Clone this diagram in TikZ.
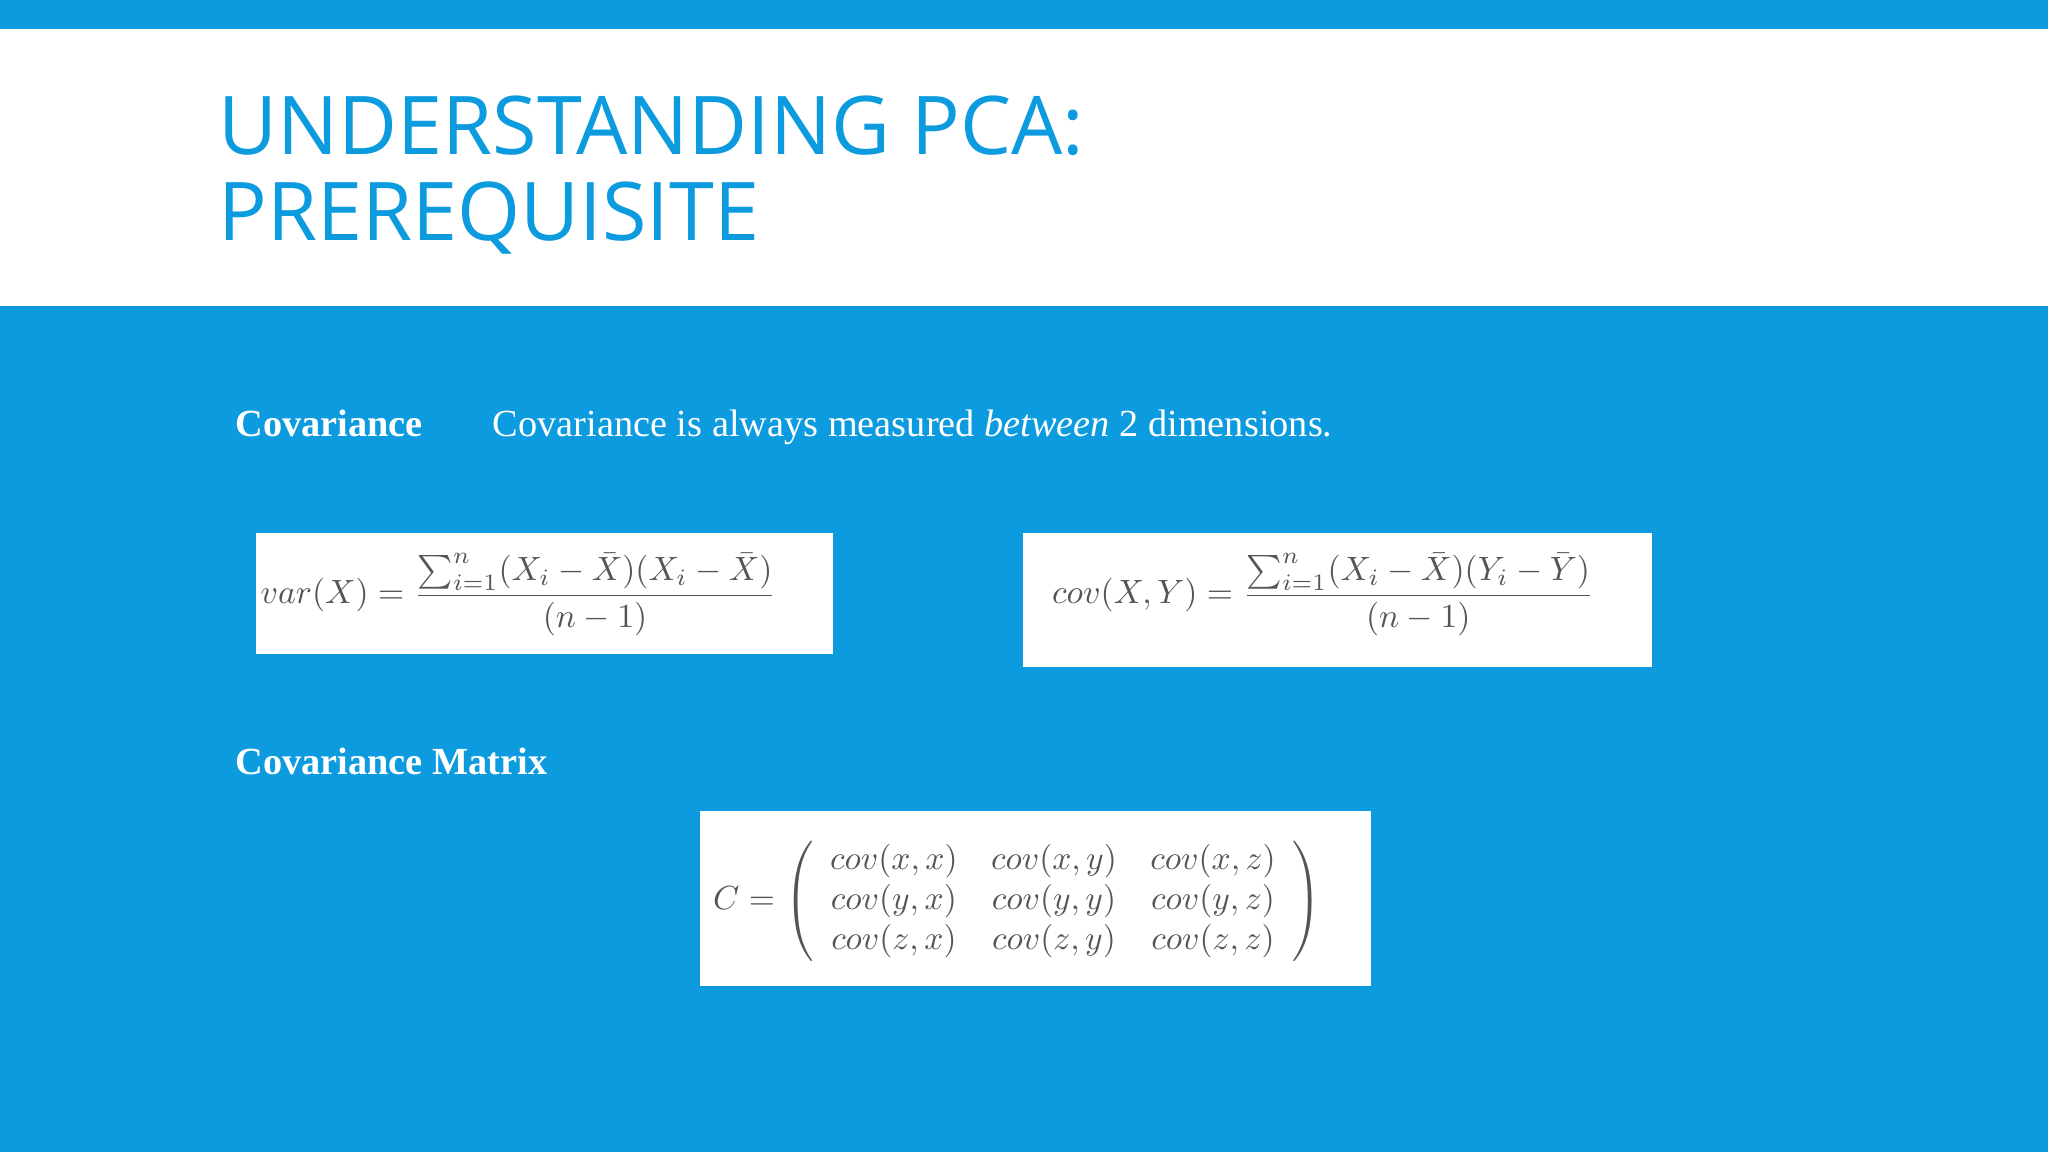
\documentclass[tikz,border=0pt]{standalone}
\usepackage{fontspec}
\usepackage{graphicx}
\setmainfont{Liberation Serif}
\newfontfamily\titlefont{Open Sans}
\definecolor{bg}{HTML}{0B9BDE}
\definecolor{eq}{HTML}{555555}
\begin{document}
\begin{tikzpicture}[x=0.02cm,y=-0.02cm,
  wbox/.style={fill=white,draw=none},
  ttl/.style={anchor=base west,inner sep=0,text=bg,font=\titlefont\fontsize{35.3}{40}\selectfont},
  lbl/.style={anchor=base west,inner sep=0,text=white,font=\fontsize{16.7}{19}\selectfont}]
\useasboundingbox (0,0) rectangle (1568,882);
\fill[bg] (0,0) rectangle (1568,882);
\fill[white] (0,22) rectangle (1568,234);
\node[ttl] (t1) at (167,118) {UNDERSTANDING PCA:};
\node[ttl] (t2) at (167,184) {PREREQUISITE};
\node[lbl] (c1) at (180,334) {\bfseries Covariance};
\node[lbl] (c2) at (377,334) {Covariance is always measured \textit{between} 2 dimensions.};
\node[lbl] (c3) at (180,593) {\bfseries Covariance Matrix};
\fill[wbox] (196,408) rectangle (638,501);
\fill[wbox] (783,408) rectangle (1265,511);
\fill[wbox] (536,621) rectangle (1050,755);
\node[text=eq,inner sep=0] (f1) at (397,455) {\resizebox{7.9cm}{!}{$\displaystyle var(X)=\frac{\textstyle\sum_{i=1}^n(X_i-\bar X)(X_i-\bar X)}{(n-1)}$}};
\node[text=eq,inner sep=0] (f2) at (1013,455) {\resizebox{8.3cm}{!}{$\displaystyle cov(X,Y)=\frac{\textstyle\sum_{i=1}^n(X_i-\bar X)(Y_i-\bar Y)}{(n-1)}$}};
\node[text=eq,inner sep=0] (f3) at (779,690) {\resizebox{9.32cm}{!}{$C=\left(\begin{array}{ccc}cov(x,x)&cov(x,y)&cov(x,z)\\cov(y,x)&cov(y,y)&cov(y,z)\\cov(z,x)&cov(z,y)&cov(z,z)\end{array}\right)$}};
\end{tikzpicture}
\end{document}
